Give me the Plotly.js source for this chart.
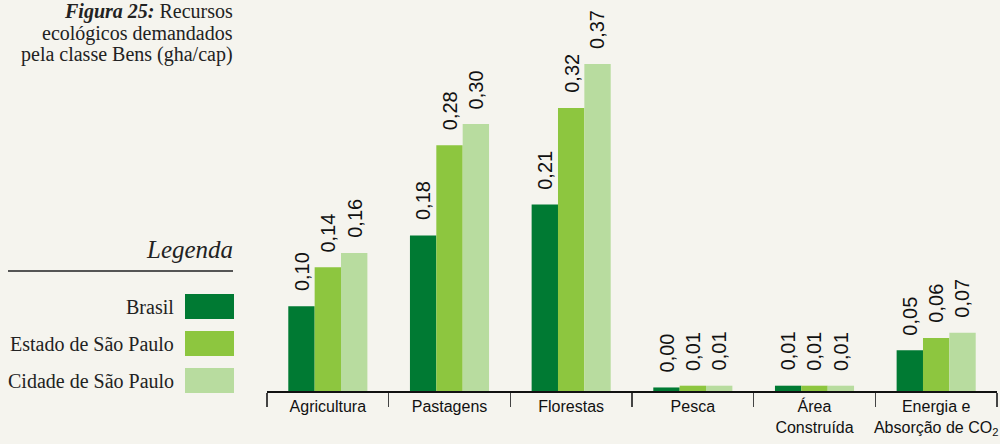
<!DOCTYPE html>
<html>
<head>
<meta charset="utf-8">
<script src="https://cdn.plot.ly/plotly-3.0.1.min.js"></script>
<style>
  html, body { margin: 0; padding: 0; background: #f5f4ee; }
  #chart { width: 1000px; height: 444px; }
</style>
</head>
<body>
<div id="chart"></div>
<script>
// Recursos ecológicos demandados pela classe Bens (gha/cap)
const categories = ['Agricultura', 'Pastagens', 'Florestas', 'Pesca', 'Área<br>Construída', 'Energia e<br>Absorção de CO<sub>2</sub>'];
const seriesNames = ['Brasil', 'Estado de São Paulo', 'Cidade de São Paulo'];
const brasil = [0.096, 0.176, 0.211, 0.004, 0.006, 0.046];
const estadoSP = [0.140, 0.278, 0.320, 0.006, 0.006, 0.060];
const cidadeSP = [0.156, 0.302, 0.370, 0.006, 0.006, 0.066];
const seriesColors = ['#007a33', '#8dc63f', '#b8dc9f'];
const captionLines = ['<b><i>Figura 25:</i></b> Recursos', 'ecológicos demandados', 'pela classe Bens (gha/cap)'];

const seriesValues = [brasil, estadoSP, cidadeSP];
const fmt = v => v.toFixed(2).replace('.', ',');

// plot area in pixels
const L = 267, R = 997, T = 0, B = 391, W = 1000, H = 444;
const px = x => (x - L) / (R - L);
const py = y => (B - y) / (B - T);

const SERIF = 'Liberation Serif, Times New Roman, serif';
const SANS = 'Liberation Sans, Arial, sans-serif';

const BARGAP = 0.35;
const barW = (1 - BARGAP) / seriesValues.length;

const traces = seriesValues.map((vals, k) => ({
  type: 'bar',
  name: seriesNames[k],
  x: categories,
  y: vals,
  marker: { color: seriesColors[k], line: { width: 0 } },
  hoverinfo: 'skip',
  showlegend: false
}));

const annotations = [];
// value labels above each bar
seriesValues.forEach((vals, k) => {
  vals.forEach((v, i) => {
    annotations.push({
      xref: 'x', yref: 'y',
      x: i + (k - 1) * barW,
      y: v,
      text: fmt(v),
      textangle: -90,
      showarrow: false,
      xanchor: 'center', yanchor: 'bottom',
      yshift: 13,
      font: { family: SANS, size: 20, color: '#111' }
    });
  });
});

// figure caption, one annotation per line (baselines 21px apart)
captionLines.forEach((line, j) => {
  annotations.push({
    xref: 'paper', yref: 'paper',
    x: px(235), y: py(18 + 21 * j - 6),
    xanchor: 'right', yanchor: 'middle', align: 'right',
    showarrow: false,
    text: line,
    font: { family: SERIF, size: 20, color: '#222' }
  });
});

// legend heading
annotations.push({
  xref: 'paper', yref: 'paper',
  x: px(235), y: py(257 - 7.5),
  xanchor: 'right', yanchor: 'middle', align: 'right',
  showarrow: false,
  text: '<i>Legenda</i>',
  font: { family: SERIF, size: 25, color: '#222' }
});

const shapes = [{
  type: 'line', xref: 'paper', yref: 'paper',
  x0: px(8), x1: px(233), y0: py(271), y1: py(271),
  line: { color: '#555', width: 2 }
}];

const swatchTop = [294, 331, 368];
seriesNames.forEach((name, k) => {
  shapes.push({
    type: 'rect', xref: 'paper', yref: 'paper',
    x0: px(185), x1: px(234), y0: py(swatchTop[k]), y1: py(swatchTop[k] + 25),
    fillcolor: seriesColors[k], line: { width: 0 }
  });
  annotations.push({
    xref: 'paper', yref: 'paper',
    x: px(176), y: py(swatchTop[k] + 13),
    xanchor: 'right', yanchor: 'middle',
    showarrow: false,
    text: name,
    font: { family: SERIF, size: 20, color: '#222' }
  });
});

const layout = {
  width: W, height: H,
  margin: { l: L, r: W - R, t: T, b: H - B, pad: 0 },
  paper_bgcolor: '#f5f4ee',
  plot_bgcolor: '#f5f4ee',
  barmode: 'group',
  bargap: BARGAP,
  bargroupgap: 0,
  showlegend: false,
  xaxis: {
    type: 'category',
    showline: true, linecolor: '#111', linewidth: 2,
    ticks: 'outside', tickson: 'boundaries', ticklen: 14, tickwidth: 1.5, tickcolor: '#444',
    tickangle: 0,
    showgrid: false, zeroline: false,
    tickfont: { family: SANS, size: 16, color: '#111' },
    fixedrange: true
  },
  yaxis: {
    range: [0, 0.4423],
    visible: false, showgrid: false, zeroline: false, fixedrange: true
  },
  annotations: annotations,
  shapes: shapes
};

Plotly.newPlot('chart', traces, layout, { displayModeBar: false, staticPlot: true });
</script>
</body>
</html>
